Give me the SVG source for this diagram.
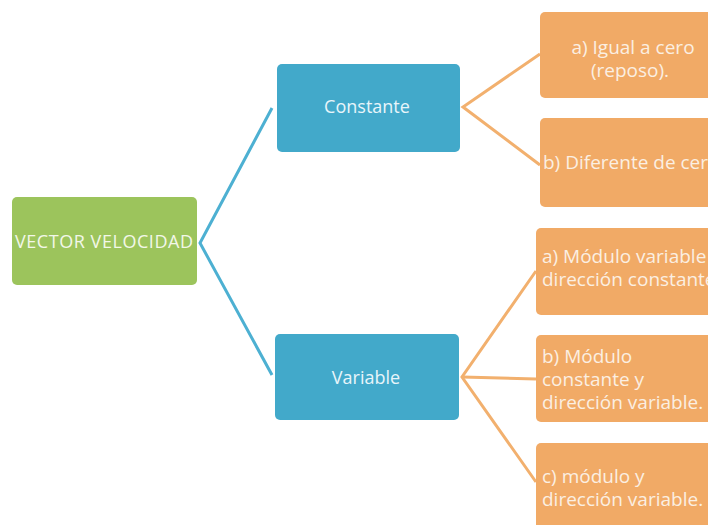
<svg xmlns="http://www.w3.org/2000/svg" width="708" height="525" viewBox="0 0 708 525">
<style>
.t{font-family:"Open Sans","Liberation Sans",sans-serif;font-size:19px;fill:#fbefe2}
.s{font-size:18px}
.c{text-anchor:middle}
.g{fill:#9cc45c}
.b{fill:#42a9ca}
.o{fill:#f1aa66}
.lb{stroke:#4db0d2;stroke-width:3;fill:none;stroke-linejoin:miter}
.lo{stroke:#f2b06e;stroke-width:3;fill:none}
</style>
<rect width="708" height="525" fill="#ffffff"/>
<g id="connectors">
<polyline class="lb" points="272,108 200,243 272,375"/>
<polyline class="lo" points="540,54 463,107 540,165"/>
<polyline class="lo" points="536,271 462,377 536,482"/>
<line class="lo" x1="462" y1="377" x2="536" y2="379"/>
</g>
<g id="n-vector">
<rect class="g" x="12" y="197" width="185" height="88" rx="5"/>
<text class="t s c" x="104" y="248" textLength="178" style="fill:#f2f7e8">VECTOR VELOCIDAD</text>
</g>
<g id="n-constante">
<rect class="b" x="277" y="64" width="183" height="88" rx="5"/>
<text class="t s c" x="367" y="113" style="fill:#e8f5fa">Constante</text>
</g>
<g id="n-variable">
<rect class="b" x="275" y="334" width="184" height="86" rx="5"/>
<text class="t s c" x="366" y="384" style="fill:#e8f5fa">Variable</text>
</g>
<g id="n-c-a">
<rect class="o" x="540" y="12" width="190" height="86" rx="5"/>
<text class="t c" x="633" y="54">a) Igual a cero</text>
<text class="t c" x="630" y="77">(reposo).</text>
</g>
<g id="n-c-b">
<rect class="o" x="540" y="118" width="190" height="89" rx="5"/>
<text class="t" x="543" y="169">b) Diferente de cero</text>
</g>
<g id="n-v-a">
<rect class="o" x="536" y="228" width="190" height="87" rx="5"/>
<text class="t" x="542" y="263">a) Módulo variable y</text>
<text class="t" x="542" y="286">dirección constante.</text>
</g>
<g id="n-v-b">
<rect class="o" x="536" y="335" width="190" height="87" rx="5"/>
<text class="t" x="542" y="363">b) Módulo</text>
<text class="t" x="542" y="386">constante y</text>
<text class="t" x="542" y="409">dirección variable.</text>
</g>
<g id="n-v-c">
<rect class="o" x="536" y="443" width="190" height="95" rx="5"/>
<text class="t" x="542" y="483">c) módulo y</text>
<text class="t" x="542" y="506">dirección variable.</text>
</g>
</svg>
